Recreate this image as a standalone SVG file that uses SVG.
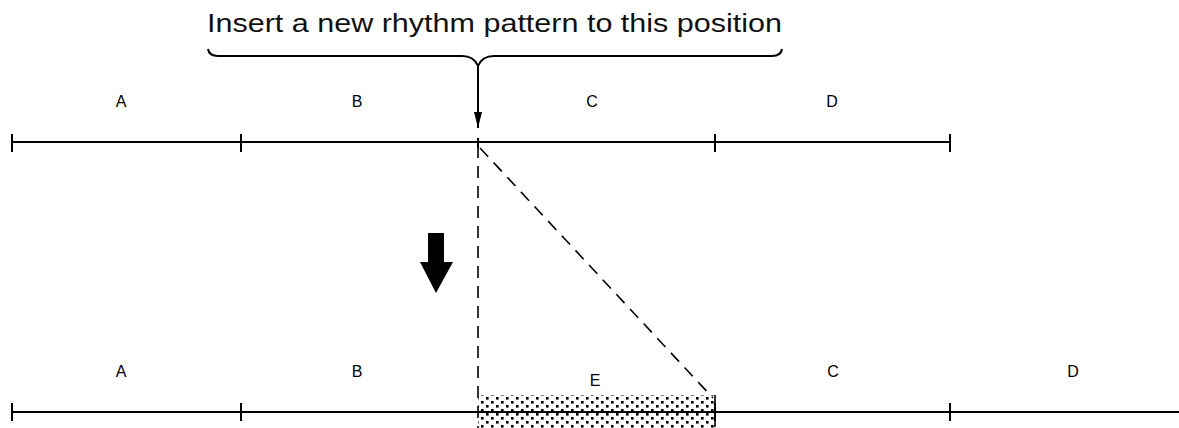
<svg xmlns="http://www.w3.org/2000/svg" width="1179" height="428" viewBox="0 0 1179 428">
<style>
.line{stroke:#000;stroke-width:2;fill:none}
.tick{stroke:#000;stroke-width:2}
.dash{stroke:#000;stroke-width:1.6;fill:none;stroke-dasharray:12 8}
.lbl{font-family:"Liberation Sans",Arial,sans-serif;font-size:16px;text-anchor:middle;fill:#000}
.title{font-family:"Liberation Sans",Arial,sans-serif;font-size:25px;fill:#111}
</style>
<defs>
<pattern id="dots" width="10" height="8" patternUnits="userSpaceOnUse">
<rect x="1" y="1" width="2.6" height="2.6" fill="#000"/>
<rect x="6" y="5" width="2.6" height="2.6" fill="#000"/>
</pattern>
<marker id="ah" viewBox="0 0 16 8" refX="16" refY="4" markerWidth="16" markerHeight="8" markerUnits="userSpaceOnUse" orient="auto">
<path d="M0,0 L16,4 L0,8 Z" fill="#000"/>
</marker>
</defs>
<g id="title">
<text class="title" x="207" y="32" textLength="575" lengthAdjust="spacingAndGlyphs">Insert a new rhythm pattern to this position</text>
<path class="line" stroke-width="1.8" d="M208,49 Q209,56 218,56 L462,56 Q474,56 478,66 Q482,56 494,56 L772,56 Q781,56 782,49"/>
</g>
<g id="top-timeline">
<line class="line" x1="12" y1="142" x2="950" y2="142"/>
<line class="tick" x1="12" y1="134" x2="12" y2="152"/>
<line class="tick" x1="241" y1="134" x2="241" y2="152"/>
<line class="tick" x1="478" y1="138" x2="478" y2="148"/>
<line class="tick" x1="715" y1="134" x2="715" y2="152"/>
<line class="tick" x1="950" y1="134" x2="950" y2="152"/>
<text class="lbl" x="121" y="107">A</text>
<text class="lbl" x="357" y="107">B</text>
<text class="lbl" x="592" y="107">C</text>
<text class="lbl" x="832" y="107">D</text>
</g>
<g id="bottom-timeline">
<rect x="478" y="395" width="237" height="33" fill="url(#dots)"/>
<line class="dash" x1="715" y1="395" x2="715" y2="428" stroke-dasharray="4 3"/>
<line class="line" x1="12" y1="412" x2="1179" y2="412"/>
<line class="tick" x1="12" y1="403" x2="12" y2="421"/>
<line class="tick" x1="241" y1="403" x2="241" y2="421"/>
<line class="tick" x1="715" y1="403" x2="715" y2="421"/>
<line class="tick" x1="950" y1="403" x2="950" y2="421"/>
<text class="lbl" x="121" y="377">A</text>
<text class="lbl" x="357" y="377">B</text>
<text class="lbl" x="595" y="386">E</text>
<text class="lbl" x="833" y="377">C</text>
<text class="lbl" x="1073" y="377">D</text>
</g>
<g id="big-arrow">
<path d="M428,233 L444,233 L444,262 L453,262 L436,293 L420,262 L428,262 Z" fill="#000"/>
</g>
<g id="connectors">
<line class="line" stroke-width="1.8" x1="478" y1="66" x2="478" y2="128" marker-end="url(#ah)"/>
<line class="dash" x1="478" y1="146" x2="478" y2="428"/>
<line class="dash" x1="480" y1="148" x2="713" y2="398"/>
</g>
</svg>
